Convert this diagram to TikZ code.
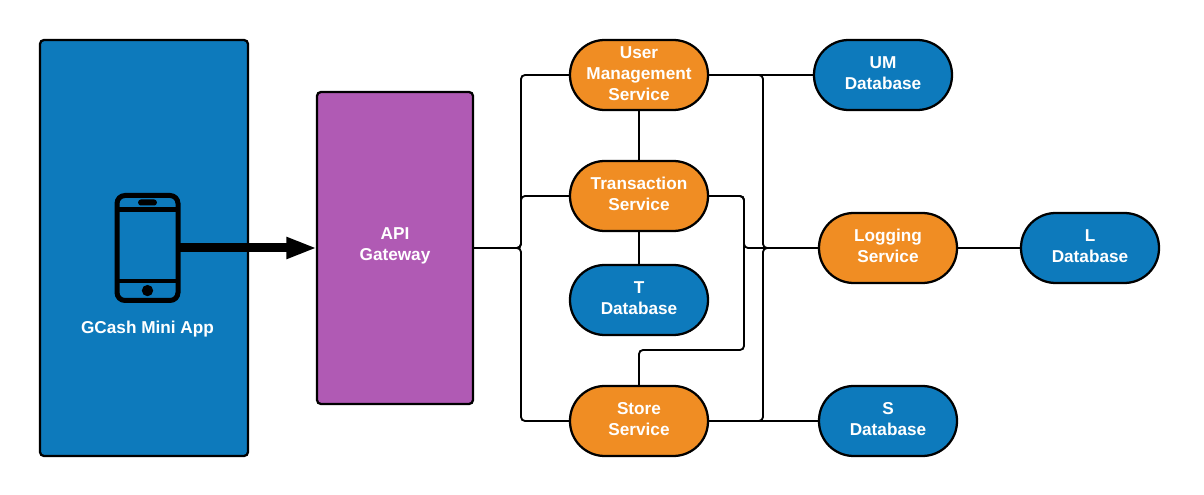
\documentclass[tikz,border=0pt]{standalone}
\usepackage{fontspec}
\setmainfont{Liberation Sans}
\usetikzlibrary{arrows.meta,positioning}
\definecolor{appblue}{HTML}{0D7ABC}
\definecolor{gatepurple}{HTML}{B05AB4}
\definecolor{svcorange}{HTML}{F08D23}
\newcommand{\txtlift}{\\[-12.75pt]\mbox{}}

\begin{document}
\begin{tikzpicture}[x=0.75pt,y=-0.75pt]
	\tikzstyle{label}=[text=white, align=center, font={\fontsize{12.9}{15.75}\selectfont\bfseries}]
	\tikzstyle{block}=[draw, line width=1.7pt, outer sep=0pt, inner sep=0pt, rounded corners=3pt, label]
	\tikzstyle{pill}=[block, minimum width=103.5pt, minimum height=52.5pt, rounded corners=26pt]
	\tikzstyle{svc}=[pill, fill=svcorange]
	\tikzstyle{db}=[pill, fill=appblue]
	\tikzstyle{wire}=[draw, line width=1.4pt, rounded corners=3pt]
	\tikzstyle{phoneline}=[draw, line width=3.75pt]

	\useasboundingbox (0,0) rectangle (1204,495);

	\node[block,fill=appblue,minimum width=156pt,minimum height=312pt] (app) at (144,248) {};
	\node[block,fill=gatepurple,minimum width=117pt,minimum height=234pt] (gateway) [right=51.75pt of app] {API\\Gateway\\[-9.75pt]\mbox{}};

	\node[svc] (trans) at (639,196) {Transaction\\Service\txtlift};
	\node[svc] (user) [above=38.25pt of trans] {User\\Management\\Service\\[-14.25pt]\mbox{}};
	\node[db] (tdb) [below=25.5pt of trans] {T\\Database\txtlift};
	\node[svc] (store) [below=38.25pt of tdb] {Store\\Service\txtlift};
	\node[db] (umdb) [right=79.5pt of user] {UM\\Database\txtlift};
	\node[svc] (logging) at (888,248) {Logging\\Service\txtlift};
	\node[db] (ldb) [right=48pt of logging] {L\\Database\txtlift};
	\node[db] (sdb) [right=83.25pt of store] {S\\Database\txtlift};

	% phone icon
	\node[phoneline,rounded corners=6pt,outer sep=0pt,minimum width=45.75pt,minimum height=78.75pt] (phone) at (147.5,248) {};
	\draw[phoneline,line width=3.5pt] ([yshift=-10.5pt]phone.north west) -- ([yshift=-10.5pt]phone.north east);
	\draw[phoneline,line width=3.5pt] ([yshift=14.5pt]phone.south west) -- ([yshift=14.5pt]phone.south east);
	\node[fill=black,rounded corners=2pt,minimum width=14pt,minimum height=4.5pt,inner sep=0pt] (speaker) [below=2.8pt of phone.north] {};
	\node[circle,fill=black,minimum size=8.5pt,inner sep=0pt] (button) [above=3pt of phone.south] {};
	\node[label] (applabel) at (147.5,329.5) {GCash Mini App};

	\draw[line width=6.75pt,-{Triangle[length=23pt,width=15pt]}] (phone) -- (gateway);

	\coordinate (busl) at (521,248);
	\coordinate (bust) at (744,248);
	\coordinate (busr) at (763,248);
	\coordinate (jog) at (744,350);

	\draw[wire] (gateway.east) -- (busl) |- (user.west);
	\draw[wire] (gateway.east) -- (busl) |- (trans.west);
	\draw[wire] (gateway.east) -- (busl) |- (store.west);
	\draw[wire] (user) -- (trans);
	\draw[wire] (trans) -- (tdb);
	\draw[wire] (user) -- (umdb);
	\draw[wire] (store) -- (sdb);
	\draw[wire] (logging) -- (ldb);
	\draw[wire] (user.east) -| (busr) -- (logging.west);
	\draw[wire] (store.east) -| (busr) -- (logging.west);
	\draw[wire] (trans.east) -| (bust) -- (logging.west);
	\draw[wire] (trans.east) -| (jog) -| (store.north);
\end{tikzpicture}
\end{document}
